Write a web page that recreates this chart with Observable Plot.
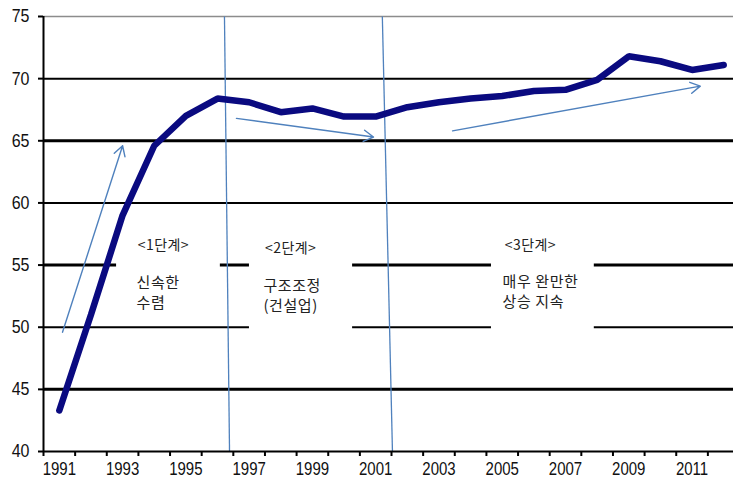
<!DOCTYPE html>
<html><head><meta charset="utf-8">
<script src="https://cdn.jsdelivr.net/npm/d3@7"></script>
<script src="https://cdn.jsdelivr.net/npm/@observablehq/plot@0.6"></script>
<style>
body{margin:0;background:#fff}
</style>
</head><body><div id="chart"></div>
<script>
const years = [1991,1992,1993,1994,1995,1996,1997,1998,1999,2000,2001,2002,2003,2004,2005,2006,2007,2008,2009,2010,2011,2012];
const values = [43.3,51.0,59.0,64.6,67.0,68.4,68.1,67.3,67.6,66.95,66.95,67.7,68.1,68.4,68.6,69.0,69.1,69.9,71.8,71.4,70.7,71.1];
const yTicks = [40,45,50,55,60,65,70,75];
const xTickLabels = [1991,1993,1995,1997,1999,2001,2003,2005,2007,2009,2011];
const xTickMarks = d3.range(1990.5, 2012.6, 1);
const gridValues = [45,50,55,60,65,70];
const gridWidths = [3,2,3,2,3,2];
// phase boundary lines (slightly slanted in the original)
const dividers = [
  {x1: 1996.22, y1: 75, x2: 1996.38, y2: 40},
  {x1: 2001.21, y1: 75, x2: 2001.53, y2: 40}
];
// trend arrows
const arrows = [
  {x1: 1991.1, y1: 49.6, x2: 1993.0, y2: 64.6},
  {x1: 1996.6, y1: 66.8, x2: 2000.93, y2: 65.3},
  {x1: 2003.43, y1: 65.8, x2: 2011.26, y2: 69.4}
];
// white label boxes
const boxes = [
  {x1: 1992.81, x2: 1996.09, y1: 52.2, y2: 57.8},
  {x1: 1997.01, x2: 2000.27, y1: 48.5, y2: 57.8},
  {x1: 2004.66, x2: 2007.91, y1: 48.5, y2: 57.8}
];
const phaseTitles = [
  {x: 1994.29, y: 56.6, text: "<1단계>"},
  {x: 1998.31, y: 56.3, text: "<2단계>"},
  {x: 2005.89, y: 56.6, text: "<3단계>"}
];
const phaseDescs = [
  {x: 1993.44, y: 53.55, text: "신속한"},
  {x: 1993.44, y: 51.95, text: "수렴"},
  {x: 1997.45, y: 53.3, text: "구조조정"},
  {x: 1997.45, y: 51.7, text: "(건설업)"},
  {x: 2005.01, y: 53.65, text: "매우 완만한"},
  {x: 2005.01, y: 52.05, text: "상승 지속"}
];

const data = years.map((y, i) => ({year: y, value: values[i]}));
const grid = gridValues.map((v, i) => ({v, w: gridWidths[i]}));
const blue = "#4f81bd";
const navy = "#0a0a80";
const kfont = "'Noto Sans CJK KR', sans-serif";

const chart = Plot.plot({
  width: 733,
  height: 484,
  marginTop: 16,
  marginBottom: 33,
  marginLeft: 43,
  marginRight: 0,
  style: {fontFamily: "'Liberation Sans', Arial, sans-serif", fontSize: "15px", background: "#fff", color: "#000"},
  x: {type: "linear", domain: [1990.5, 2012.31]},
  y: {domain: [40, 75]},
  marks: [
    Plot.ruleY(grid, {y: "v", strokeWidth: "w", stroke: "#000"}),
    Plot.ruleY([75], {stroke: "#8c8c8c", strokeWidth: 1.5}),
    Plot.rect(boxes, {x1: "x1", x2: "x2", y1: "y1", y2: "y2", fill: "#fff"}),
    Plot.text(phaseTitles, {x: "x", y: "y", text: "text", fontFamily: kfont, fontSize: 14, fill: "#222", className: "ptitle"}),
    Plot.text(phaseDescs, {x: "x", y: "y", text: "text", textAnchor: "start", fontFamily: kfont, fontSize: 15, fill: "#222", className: "pdesc"}),
    Plot.link(dividers, {x1: "x1", y1: "y1", x2: "x2", y2: "y2", stroke: blue, strokeWidth: 1.3}),
    Plot.arrow(arrows, {x1: "x1", y1: "y1", x2: "x2", y2: "y2", stroke: blue, strokeWidth: 1.4, headLength: 12, bend: 0}),
    Plot.line(data, {x: "year", y: "value", stroke: navy, strokeWidth: 6.5, strokeLinejoin: "miter", strokeLinecap: "round"}),
    Plot.ruleX([1990.5], {stroke: "#000", strokeWidth: 2}),
    Plot.ruleY([40], {stroke: "#000", strokeWidth: 2}),
    Plot.axisY(yTicks, {tickSize: 5, tickPadding: 9, tickFormat: d => String(d), stroke: "#000", strokeWidth: 2, fill: "#111", fontSize: 16}),
    Plot.axisX(xTickMarks, {tickSize: 5, tickFormat: () => "", stroke: "#000", strokeWidth: 2}),
    Plot.axisX(xTickLabels, {tickSize: 0, tickPadding: 11, tickFormat: d => String(d), fill: "#111", fontSize: 15})
  ]
});
document.getElementById("chart").appendChild(chart);
// the original's tick labels are slightly stretched vertically
const stretch = (sel, s) => d3.select(chart).selectAll(sel).selectAll("text")
  .attr("transform", function() { return (this.getAttribute("transform") || "") + ` scale(1,${s})`; });
stretch('g[aria-label="y-axis tick label"]', 1.15);
stretch('g[aria-label="x-axis tick label"]', 1.2);
d3.select(chart).selectAll(".pdesc text").style("letter-spacing", "0.6px");
d3.select(chart).selectAll(".ptitle text").style("letter-spacing", "0.4px");
</script>
</body></html>
